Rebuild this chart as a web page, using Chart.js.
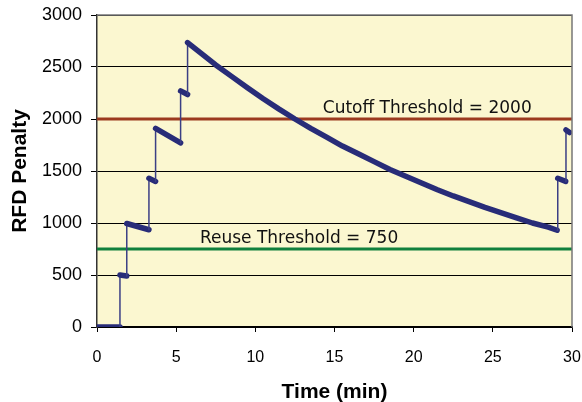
<!DOCTYPE html>
<html>
<head>
<meta charset="utf-8">
<script src="https://cdn.jsdelivr.net/npm/chart.js@4.4.1/dist/chart.umd.min.js"></script>
<style>
  html, body { margin: 0; padding: 0; background: #fff; }
  #contenedorChart { width: 582px; height: 402px; }
</style>
</head>
<body>
<div id="contenedorChart"><canvas id="myChart" width="582" height="402"></canvas></div>
<script>
//DATOS
const tiempo = [0, 1.45, 1.45, 1.88, 1.88, 3.28, 3.28, 3.70, 3.70, 5.28, 5.28, 5.72, 5.72,
  6.5, 7.5, 8.5, 9.5, 10.5, 11.5, 12.5, 13.5, 14.5, 15.5, 16.5, 17.5, 18.5, 19.5, 20.5,
  21.5, 22.5, 23.5, 24.5, 25.5, 26.5, 27.5, 28.5, 29.06, 29.1, 29.6, 29.62, 29.85];
const penalizacion = [0, 0, 500, 490, 995, 935, 1430, 1400, 1910, 1770, 2270, 2235, 2735,
  2640, 2520, 2410, 2300, 2195, 2095, 2000, 1910, 1825, 1740, 1665, 1590, 1515, 1450, 1385,
  1320, 1260, 1205, 1150, 1100, 1050, 1000, 960, 930, 1430, 1400, 1895, 1870];
const umbralCorte = 2000;
const umbralReuso = 750;
const textoCorte = "Cutoff Threshold = " + umbralCorte;
const textoReuso = "Reuse Threshold = " + umbralReuso;
const ticksX = [0, 5, 10, 15, 20, 25, 30];
const ticksY = [0, 500, 1000, 1500, 2000, 2500, 3000];

//COLORES
const azul = "#282C78";
const rojo = "#9C3A1F";
const verde = "#10803D";
const fondoAmarillo = "#FBF7D0";

//PLUGIN fondo, marco y textos
const fondo = {
  id: "fondo",
  beforeDraw(chart) {
    const { ctx, chartArea: a } = chart;
    ctx.save();
    ctx.fillStyle = fondoAmarillo;
    ctx.fillRect(a.left, a.top, a.right - a.left, a.bottom - a.top);
    ctx.restore();
  },
  afterDraw(chart) {
    const { ctx, chartArea: a, scales } = chart;
    ctx.save();
    ctx.strokeStyle = "#777";
    ctx.lineWidth = 1.5;
    ctx.beginPath();
    ctx.moveTo(a.left, a.top);
    ctx.lineTo(a.right, a.top);
    ctx.lineTo(a.right, a.bottom);
    ctx.stroke();
    ctx.fillStyle = "#111";
    ctx.font = "17px 'DejaVu Sans'";
    ctx.textAlign = "left";
    ctx.textBaseline = "alphabetic";
    ctx.fillText(textoCorte, scales.x.getPixelForValue(14.26), scales.y.getPixelForValue(umbralCorte) - 6);
    ctx.fillText(textoReuso, scales.x.getPixelForValue(6.5), scales.y.getPixelForValue(umbralReuso) - 6);
    ctx.restore();
  }
};

//CONFIG
const puntos = tiempo.map((t, i) => ({ x: t, y: penalizacion[i] }));
const esSalto = (c) => Math.abs(c.p1.parsed.y - c.p0.parsed.y) > 300;

const data = {
  datasets: [
    {
      label: "RFD Penalty",
      data: puntos,
      borderColor: azul,
      borderWidth: 5.5,
      borderCapStyle: "round",
      borderJoinStyle: "round",
      pointRadius: 0,
      tension: 0,
      order: 0,
      segment: {
        borderWidth: (c) => (esSalto(c) ? 1.5 : 5.5),
        borderColor: (c) => (esSalto(c) ? "#3B3F85" : azul),
      },
    },
    {
      label: "Cutoff",
      data: [{ x: ticksX[0], y: umbralCorte }, { x: ticksX[ticksX.length - 1], y: umbralCorte }],
      borderColor: rojo,
      borderWidth: 3,
      pointRadius: 0,
      order: 1,
    },
    {
      label: "Reuse",
      data: [{ x: ticksX[0], y: umbralReuso }, { x: ticksX[ticksX.length - 1], y: umbralReuso }],
      borderColor: verde,
      borderWidth: 3,
      pointRadius: 0,
      order: 1,
    },
  ],
};

const config = {
  type: "line",
  data: data,
  plugins: [fondo],
  options: {
    responsive: false,
    animation: false,
    devicePixelRatio: 1,
    layout: { padding: { left: 0, right: 10, top: 15, bottom: 0 } },
    plugins: {
      legend: { display: false },
      tooltip: { enabled: false },
    },
    scales: {
      x: {
        type: "linear",
        min: ticksX[0],
        max: ticksX[ticksX.length - 1],
        afterFit: (s) => {
          s.height = 75;
          s.paddingLeft = 0;
          s.paddingRight = 0;
        },
        ticks: {
          stepSize: ticksX[1] - ticksX[0],
          color: "#000",
          padding: 16,
          font: { family: "'Liberation Sans', Arial", size: 16 },
          callback: (v) => String(v),
        },
        grid: { drawOnChartArea: false, drawTicks: true, tickLength: 5, color: "#000" },
        border: { color: "#000", width: 1.5 },
        title: {
          display: true,
          text: "Time (min)",
          color: "#000",
          padding: { top: 0, bottom: -3 },
          font: { family: "'Liberation Sans', Arial", size: 21, weight: "bold" },
        },
      },
      y: {
        min: ticksY[0],
        max: ticksY[ticksY.length - 1],
        afterFit: (s) => {
          s.width = 97;
          s.paddingTop = 0;
          s.paddingBottom = 0;
        },
        ticks: {
          stepSize: ticksY[1] - ticksY[0],
          color: "#000",
          padding: 9,
          font: { family: "'Liberation Sans', Arial", size: 18 },
          callback: (v) => String(v),
        },
        grid: { color: "#000", lineWidth: 1, drawTicks: true, tickLength: 6 },
        border: { color: "#333", width: 1.5 },
        title: {
          display: true,
          text: "RFD Penalty",
          color: "#000",
          padding: { top: 8, bottom: 0 },
          font: { family: "'Liberation Sans', Arial", size: 21, weight: "bold" },
        },
      },
    },
  },
};

//EVENTOS
const myChart = new Chart(document.getElementById("myChart"), config);
</script>
</body>
</html>
